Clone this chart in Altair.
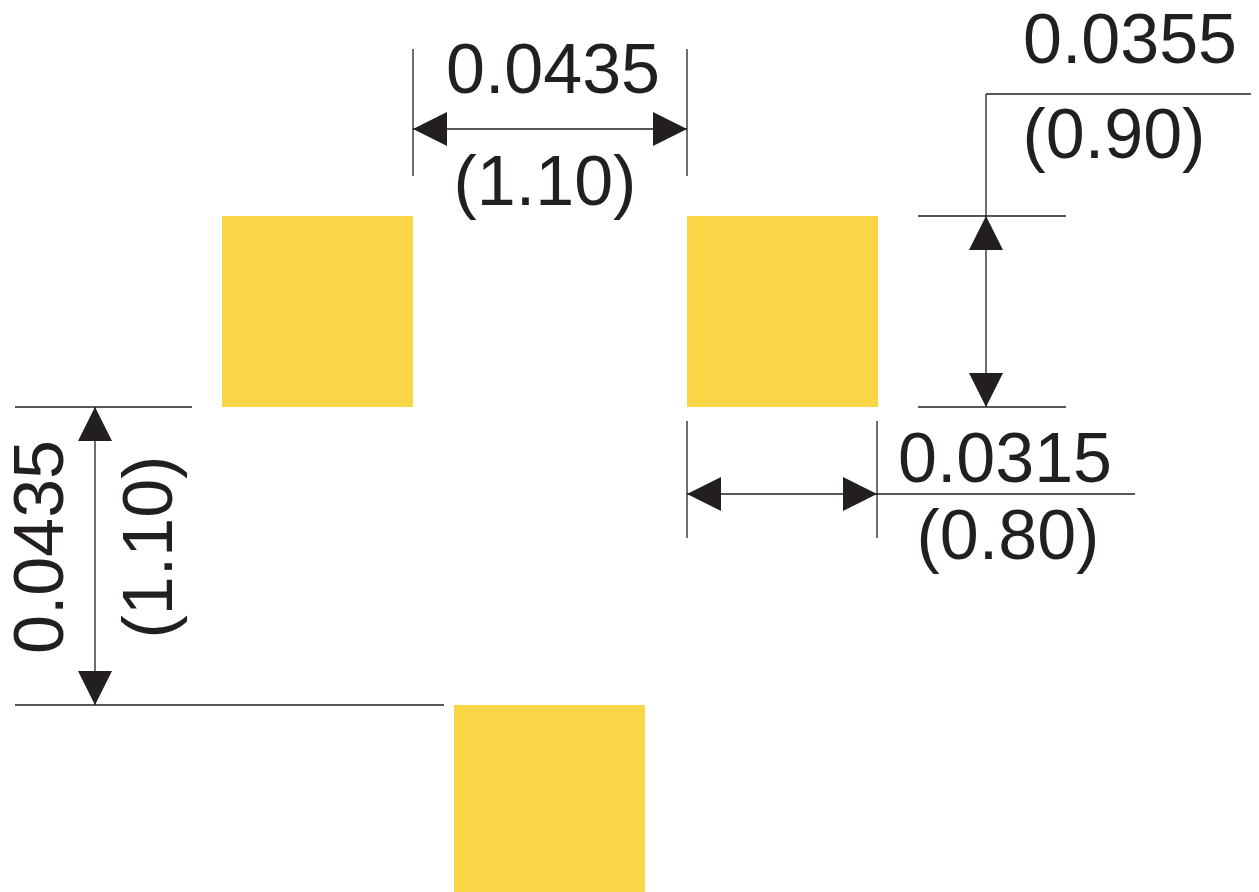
import altair as alt
import pandas as pd

INK = "#231f20"
PAD = "#fad545"
FONT = "Liberation Sans"
FS = 70

# pads: left, right, top, bottom
pad_x = [222, 687, 454]
pad_x2 = [413, 878, 645]
pad_y = [216, 216, 705]
pad_y2 = [407, 407, 892]

# lines: x1, x2, y1, y2
line_x1 = [413, 687, 413, 986, 986, 918, 918, 687, 687, 877, 15, 15, 95]
line_x2 = [413, 687, 687, 986, 1251, 1066, 1066, 1135, 687, 877, 192, 444, 95]
line_y1 = [49, 49, 129, 94, 94, 216, 407, 494, 421, 421, 407, 705, 407]
line_y2 = [176, 176, 129, 407, 94, 216, 407, 494, 538, 538, 407, 705, 705]

# arrow tips
left_x, left_y = [413, 687], [129, 494]
right_x, right_y = [687, 877], [129, 494]
up_x, up_y = [986, 95], [216, 407]
down_x, down_y = [986, 95], [407, 705]

# texts
label_text = ["0.0435", "(1.10)", "0.0355", "(0.90)", "0.0315", "(0.80)"]
label_x = [553, 545, 1130, 1114, 1005, 1008]
label_y = [93, 205, 63, 158, 482, 559]
side_text = ["0.0435", "(1.10)"]
side_x = [63, 172]
side_y = [547, 547]

X = alt.Scale(domain=[8, 1251], range=[0, 1243], nice=False, zero=False)
Y = alt.Scale(domain=[8, 892], range=[0, 884], nice=False, zero=False)


def xq(f):
    return alt.X(f, type="quantitative", scale=X, axis=None)


def yq(f):
    return alt.Y(f, type="quantitative", scale=Y, axis=None)


pads = alt.Chart(pd.DataFrame(dict(x=pad_x, x2=pad_x2, y=pad_y, y2=pad_y2))).mark_rect(color=PAD).encode(
    x=xq("x"), x2="x2", y=yq("y"), y2="y2"
)
lines = alt.Chart(pd.DataFrame(dict(x=line_x1, x2=line_x2, y=line_y1, y2=line_y2))).mark_rule(
    color=INK, strokeWidth=1.3
).encode(x=xq("x"), x2="x2", y=yq("y"), y2="y2")


def arrows(xs, ys, path):
    return alt.Chart(pd.DataFrame(dict(x=xs, y=ys))).mark_point(
        shape=path, filled=True, color=INK, opacity=1, size=1156, strokeWidth=0
    ).encode(x=xq("x"), y=yq("y"))


a_left = arrows(left_x, left_y, "M0,0 L2,-1 L2,1 Z")
a_right = arrows(right_x, right_y, "M0,0 L-2,-1 L-2,1 Z")
a_up = arrows(up_x, up_y, "M0,0 L-1,2 L1,2 Z")
a_down = arrows(down_x, down_y, "M0,0 L-1,-2 L1,-2 Z")

labels = alt.Chart(pd.DataFrame(dict(t=label_text, x=label_x, y=label_y))).mark_text(
    font=FONT, fontSize=FS, color=INK, align="center", baseline="alphabetic"
).encode(x=xq("x"), y=yq("y"), text="t:N")
side = alt.Chart(pd.DataFrame(dict(t=side_text, x=side_x, y=side_y))).mark_text(
    font=FONT, fontSize=FS, color=INK, align="center", baseline="alphabetic", angle=270
).encode(x=xq("x"), y=yq("y"), text="t:N")

chart = alt.layer(pads, lines, a_left, a_right, a_up, a_down, labels, side).properties(
    width=1243, height=884, padding=0, autosize=alt.AutoSizeParams(type="none"),
    background="white"
).configure_view(stroke=None)

chart.save("out.html", embed_options={"renderer": "svg", "actions": False})
